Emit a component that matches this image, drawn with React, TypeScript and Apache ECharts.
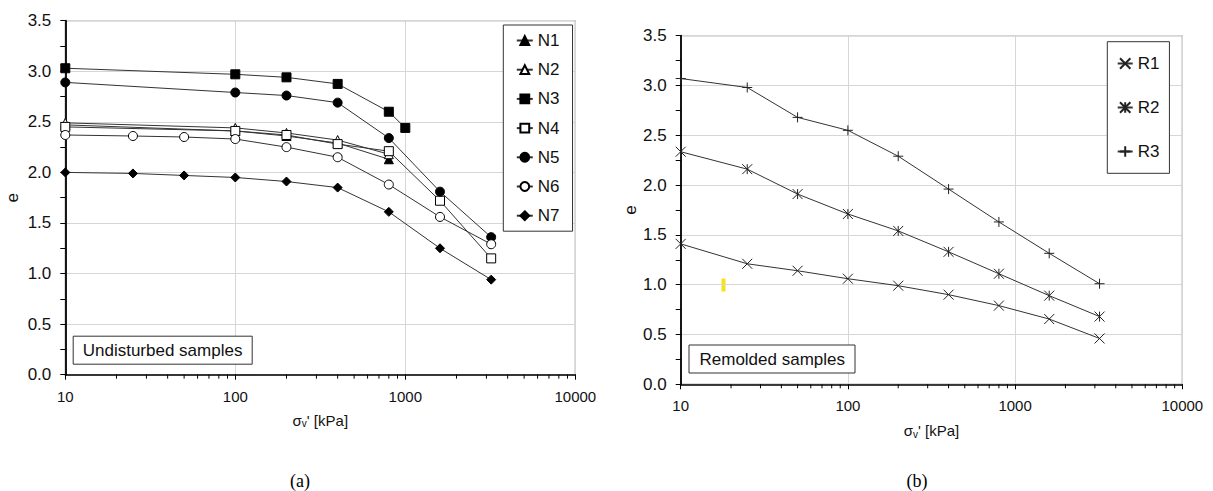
import React, { useEffect, useRef } from "react";
import * as echarts from "echarts";

// ---------- data ----------
const stressN12 = [10, 100, 200, 400, 800];
const N1 = [2.47, 2.41, 2.36, 2.29, 2.13];
const N2 = [2.49, 2.44, 2.39, 2.32, 2.18];
const stressN3 = [10, 100, 200, 400, 800, 1000];
const N3 = [3.03, 2.97, 2.94, 2.875, 2.6, 2.44];
const stressN45 = [10, 100, 200, 400, 800, 1600, 3200];
const N4 = [2.45, 2.41, 2.37, 2.28, 2.21, 1.72, 1.15];
const N5 = [2.89, 2.79, 2.76, 2.69, 2.34, 1.81, 1.36];
const stressN67 = [10, 25, 50, 100, 200, 400, 800, 1600, 3200];
const N6 = [2.37, 2.36, 2.35, 2.33, 2.25, 2.15, 1.88, 1.56, 1.29];
const N7 = [2.0, 1.99, 1.97, 1.95, 1.91, 1.85, 1.61, 1.25, 0.94];

const stressR = [10, 25, 50, 100, 200, 400, 800, 1600, 3200];
const R1 = [1.41, 1.21, 1.14, 1.06, 0.99, 0.9, 0.79, 0.655, 0.46];
const R2 = [2.335, 2.16, 1.91, 1.71, 1.54, 1.33, 1.11, 0.89, 0.68];
const R3 = [3.07, 2.98, 2.68, 2.55, 2.29, 1.96, 1.63, 1.315, 1.01];

const minorTickValues = [
  20, 30, 40, 50, 60, 70, 80, 90,
  200, 300, 400, 500, 600, 700, 800, 900,
  2000, 3000, 4000, 5000, 6000, 7000, 8000, 9000,
];

const leftNames = ["N1", "N2", "N3", "N4", "N5", "N6", "N7"];
const rightNames = ["R1", "R2", "R3"];

// ---------- helpers ----------
const FONT = "'Liberation Sans', Arial, sans-serif";
const zip = (xs: number[], ys: number[]) => xs.map((x, i) => [x, ys[i]]);

const X_PATH = "path://M0,0L10,10M10,0L0,10";
const STAR_PATH = "path://M0,0L10,10M10,0L0,10M5,0L5,10";
const PLUS_PATH = "path://M5,0L5,10M0,5L10,5";

function lineSeries(
  name: string,
  data: number[][],
  idx: number,
  symbol: string,
  size: number,
  filled: boolean | "none"
) {
  return {
    type: "line",
    name,
    xAxisIndex: idx,
    yAxisIndex: idx,
    data,
    symbol,
    symbolSize: size,
    showAllSymbol: true,
    lineStyle: { color: "#333", width: 1 },
    itemStyle:
      filled === "none"
        ? { color: "none", borderColor: "#222", borderWidth: 1 }
        : filled
        ? { color: "#000", borderColor: "#000", borderWidth: 1 }
        : { color: "#fff", borderColor: "#000", borderWidth: 1 },
    emphasis: { disabled: true },
    z: 3,
  };
}

function minorTickSeries(idx: number) {
  return {
    type: "custom",
    xAxisIndex: idx,
    yAxisIndex: idx,
    silent: true,
    clip: false,
    data: minorTickValues.map((v) => [v, 0]),
    renderItem: (params: any, api: any) => {
      const p = api.coord([api.value(0), api.value(1)]);
      return {
        type: "line",
        shape: { x1: p[0], y1: p[1], x2: p[0], y2: p[1] + 4 },
        style: { stroke: "#000", lineWidth: 1 },
      };
    },
    z: 5,
  };
}

function xAxis(idx: number, labelMargin: number, nameGap: number) {
  return {
    type: "log",
    logBase: 10,
    gridIndex: idx,
    min: 10,
    max: 10000,
    name: "{a|σ}{s|v}{a|' [kPa]}",
    nameLocation: "middle",
    nameGap,
    nameTextStyle: {
      fontFamily: FONT,
      color: "#111",
      rich: {
        a: { fontSize: 15, fontFamily: FONT, color: "#111", lineHeight: 17 },
        s: {
          fontSize: 10,
          fontFamily: FONT,
          color: "#111",
          lineHeight: 10,
          padding: [7, 0, 0, 0],
        },
      },
    },
    axisLine: { show: true, onZero: false, lineStyle: { color: "#000", width: 1.5 } },
    axisTick: { show: true, length: 5, lineStyle: { color: "#000", width: 1 } },
    axisLabel: {
      fontSize: 15,
      fontFamily: FONT,
      color: "#111",
      margin: labelMargin,
      formatter: (v: number) => String(Math.round(v)),
    },
    splitLine: { show: true, lineStyle: { color: "#d6d6d6", width: 1 } },
    minorTick: { show: false },
  };
}

function yAxis(idx: number, nameGap: number) {
  return {
    type: "value",
    gridIndex: idx,
    min: 0,
    max: 3.5,
    interval: 0.5,
    name: "e",
    nameLocation: "middle",
    nameGap,
    nameRotate: 90,
    nameTextStyle: { fontSize: 17, fontFamily: FONT, color: "#111" },
    axisLine: { show: true, onZero: false, lineStyle: { color: "#000", width: 1.8 } },
    axisTick: { show: true, length: 5, lineStyle: { color: "#000", width: 1 } },
    minorTick: { show: true, splitNumber: 2, length: 5, lineStyle: { color: "#000", width: 1 } },
    axisLabel: {
      fontSize: 17,
      fontFamily: FONT,
      color: "#111",
      margin: 14,
      formatter: (v: number) => v.toFixed(1),
    },
    splitLine: { show: true, lineStyle: { color: "#d6d6d6", width: 1 } },
  };
}

export default function App() {
  const ref = useRef<HTMLDivElement>(null);

  useEffect(() => {
    if (!ref.current) return;
    const chart = echarts.init(ref.current, null, { renderer: "svg" });

    const option: any = {
      animation: false,
      backgroundColor: "#fff",
      grid: [
        {
          left: 65.3,
          top: 20.7,
          width: 510,
          height: 354,
          show: true,
          borderColor: "#555",
          borderWidth: 1,
          backgroundColor: "transparent",
        },
        {
          left: 680.7,
          top: 35.7,
          width: 501.6,
          height: 348.6,
          show: true,
          borderColor: "#555",
          borderWidth: 1,
          backgroundColor: "transparent",
        },
      ],
      xAxis: [xAxis(0, 14, 37), xAxis(1, 14, 38)],
      yAxis: [yAxis(0, 44), yAxis(1, 42)],
      title: [
        {
          text: "Undisturbed samples",
          left: 72.7,
          top: 335.7,
          padding: [6, 10, 6, 10],
          borderColor: "#333",
          borderWidth: 1,
          backgroundColor: "#fff",
          textStyle: { fontSize: 17, fontWeight: "normal", fontFamily: FONT, color: "#111", lineHeight: 17 },
        },
        {
          text: "Remolded samples",
          left: 689,
          top: 345,
          padding: [5.5, 10.5, 5.5, 10.5],
          borderColor: "#333",
          borderWidth: 1,
          backgroundColor: "#fff",
          textStyle: { fontSize: 17, fontWeight: "normal", fontFamily: FONT, color: "#111", lineHeight: 17 },
        },
      ],
      legend: [
        {
          data: leftNames,
          orient: "vertical",
          left: 503.3,
          top: 25,
          padding: [7, 13, 7, 12.5],
          itemGap: 12.2,
          itemWidth: 16,
          itemHeight: 11,
          borderColor: "#333",
          borderWidth: 1,
          backgroundColor: "#fff",
          selectedMode: false,
          textStyle: { fontSize: 17, fontFamily: FONT, color: "#111", lineHeight: 17 },
        },
        {
          data: rightNames,
          orient: "vertical",
          left: 1107.3,
          top: 41.7,
          padding: [13.3, 10, 13.3, 9.4],
          itemGap: 27,
          itemWidth: 15,
          itemHeight: 13,
          borderColor: "#333",
          borderWidth: 1,
          backgroundColor: "#fff",
          selectedMode: false,
          textStyle: { fontSize: 17, fontFamily: FONT, color: "#111", lineHeight: 17 },
        },
      ],
      series: [
        lineSeries("N1", zip(stressN12, N1), 0, "triangle", 9, true),
        lineSeries("N2", zip(stressN12, N2), 0, "triangle", 9, false),
        lineSeries("N3", zip(stressN3, N3), 0, "rect", 9, true),
        lineSeries("N4", zip(stressN45, N4), 0, "rect", 9, false),
        lineSeries("N5", zip(stressN45, N5), 0, "circle", 9, true),
        lineSeries("N6", zip(stressN67, N6), 0, "circle", 9, false),
        lineSeries("N7", zip(stressN67, N7), 0, "diamond", 9, true),
        lineSeries("R1", zip(stressR, R1), 1, X_PATH, 10, "none"),
        lineSeries("R2", zip(stressR, R2), 1, STAR_PATH, 10, "none"),
        lineSeries("R3", zip(stressR, R3), 1, PLUS_PATH, 10, "none"),
        minorTickSeries(0),
        minorTickSeries(1),
      ],
      graphic: [
        {
          type: "text",
          x: 300,
          y: 481,
          style: {
            text: "(a)",
            font: "18px 'Liberation Serif', 'Times New Roman', serif",
            fill: "#000",
            align: "center",
            verticalAlign: "middle",
          },
        },
        {
          type: "text",
          x: 917,
          y: 481,
          style: {
            text: "(b)",
            font: "18px 'Liberation Serif', 'Times New Roman', serif",
            fill: "#000",
            align: "center",
            verticalAlign: "middle",
          },
        },
        {
          type: "rect",
          x: 721.5,
          y: 278.5,
          shape: { width: 4, height: 13 },
          style: { fill: "#f7e21a" },
        },
      ],
    };

    chart.setOption(option);
    return () => chart.dispose();
  }, []);

  return (
    <div
      ref={ref}
      style={{ position: "fixed", left: 0, top: 0, width: 1213, height: 491, background: "#fff" }}
    />
  );
}
